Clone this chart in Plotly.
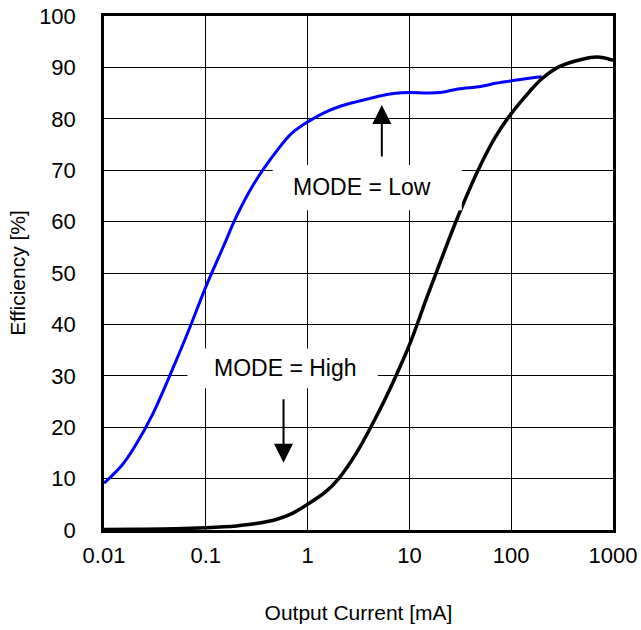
import math
import plotly.graph_objects as go

# Output current [mA], MODE = Low
low_x = [0.01, 0.015, 0.02, 0.03, 0.05, 0.07, 0.1, 0.15, 0.2, 0.3, 0.5, 0.7, 1,
         1.5, 2, 3, 5, 7, 10, 15, 20, 30, 50, 70, 100, 150, 200]
# Efficiency [%], MODE = Low
low_y = [9.1, 12.6, 16.2, 22.5, 32.5, 39.5, 47.3, 55.3, 61.0, 67.5, 73.8, 77.2, 79.4,
         81.3, 82.3, 83.3, 84.4, 84.9, 85.1, 85.0, 85.1, 85.8, 86.3, 86.9, 87.4, 87.9, 88.2]

# Output current [mA], MODE = High
high_x = [0.01, 0.02, 0.05, 0.1, 0.2, 0.3, 0.5, 0.7, 1, 1.5, 2, 3, 5, 7, 10, 15, 20,
          30, 50, 70, 100, 150, 200, 300, 500, 700, 1000]
# Efficiency [%], MODE = High
high_y = [0.1, 0.15, 0.25, 0.45, 0.8, 1.2, 2.1, 3.2, 5.0, 7.4, 9.9, 14.9, 23.0, 29.0, 36.0,
          45.5, 52.0, 61.0, 71.0, 76.5, 81.0, 85.2, 87.8, 90.2, 91.6, 92.0, 91.4]

x_tickvals = [0.01, 0.1, 1, 10, 100, 1000]
x_ticktext = ["0.01", "0.1", "1", "10", "100", "1000"]
y_tickvals = [0, 10, 20, 30, 40, 50, 60, 70, 80, 90, 100]

FONT = "Liberation Sans, Arial, sans-serif"

fig = go.Figure()
fig.add_trace(go.Scatter(x=low_x, y=low_y, mode="lines",
                         line=dict(color="#0000FF", width=3, shape="spline", smoothing=1.0),
                         showlegend=False))
fig.add_trace(go.Scatter(x=high_x, y=high_y, mode="lines",
                         line=dict(color="#000000", width=3.5, shape="spline", smoothing=1.0),
                         showlegend=False))

# white label boxes (cover grid and curves)
fig.add_shape(type="rect", xref="x", yref="y", x0=0.454, x1=32.7, y0=62.2, y1=71.0,
              fillcolor="white", line=dict(width=0), layer="above")
fig.add_shape(type="rect", xref="x", yref="y", x0=0.0662, x1=4.89, y0=27.6, y1=35.3,
              fillcolor="white", line=dict(width=0), layer="above")

fig.add_annotation(x=math.log10(3.4), y=66.7, xref="x", yref="y", text="MODE = Low",
                   showarrow=False, font=dict(family=FONT, size=23, color="black"))
fig.add_annotation(x=math.log10(0.61), y=31.5, xref="x", yref="y", text="MODE = High",
                   showarrow=False, font=dict(family=FONT, size=23, color="black"))

# arrows
fig.add_annotation(x=math.log10(5.36), y=82.7, xref="x", yref="y", text="",
                   showarrow=True, arrowhead=2, arrowsize=1.9, arrowwidth=2, arrowcolor="black",
                   ax=0, ay=53)
fig.add_annotation(x=math.log10(0.58), y=13.1, xref="x", yref="y", text="",
                   showarrow=True, arrowhead=2, arrowsize=1.9, arrowwidth=2, arrowcolor="black",
                   ax=0, ay=-65)

fig.update_xaxes(type="log", range=[-2, 3], tickvals=x_tickvals, ticktext=x_ticktext,
                 showgrid=True, gridcolor="black", gridwidth=1,
                 showline=True, linecolor="black", linewidth=2.5, mirror=True,
                 ticks="", ticklabelstandoff=4, zeroline=False, automargin=False,
                 ticklabeloverflow="allow",
                 tickfont=dict(family=FONT, size=22, color="black"),
                 title=dict(text="Output Current [mA]", standoff=39,
                            font=dict(family=FONT, size=21, color="black")))
fig.update_yaxes(range=[0, 100], tickvals=y_tickvals,
                 showgrid=True, gridcolor="black", gridwidth=1,
                 showline=True, linecolor="black", linewidth=2.5, mirror=True,
                 ticks="", ticklabelstandoff=21, zeroline=False, automargin=False,
                 ticklabeloverflow="allow",
                 tickfont=dict(family=FONT, size=22, color="black"),
                 title=dict(text="Efficiency [%]", standoff=8,
                            font=dict(family=FONT, size=21, color="black")))

fig.update_layout(width=641, height=630, plot_bgcolor="white", paper_bgcolor="white",
                  margin=dict(l=104, r=28, t=16, b=100), showlegend=False)

# remove the browser's default 8px body margin so the figure sits at the page origin
fig.write_html("out.html", config={"displayModeBar": False},
               post_script="document.body.style.margin='0';document.body.style.overflow='hidden';")
